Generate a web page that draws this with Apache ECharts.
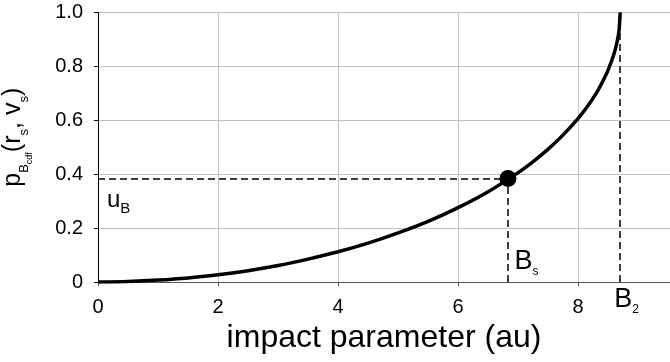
<!DOCTYPE html>
<html>
<head>
<meta charset="utf-8">
<script src="https://cdn.jsdelivr.net/npm/echarts@6/dist/echarts.min.js"></script>
<style>
  html, body { margin: 0; padding: 0; background: #fff; }
  #chart { width: 670px; height: 362px; }
</style>
</head>
<body>
<div id="chart"></div>
<script>
// impact parameter (au) and the cdf
const impactParam = [0, 0.5, 1, 1.5, 2, 2.5, 3, 3.5, 4, 4.5, 5, 5.5, 6, 6.5, 7, 7.25, 7.5, 7.75, 8, 8.15, 8.3, 8.4, 8.5, 8.6, 8.65, 8.68, 8.7]
const cdfValues = [0, 0.002, 0.007, 0.015, 0.027, 0.042, 0.061, 0.085, 0.112, 0.144, 0.182, 0.225, 0.276, 0.335, 0.406, 0.447, 0.493, 0.546, 0.607, 0.650, 0.700, 0.740, 0.787, 0.849, 0.893, 0.932, 1.0]
// the sampled point (B_s, u_B) and the cut-off B_2
const sampleB = 6.83
const sampleU = 0.384
const cutoffB = 8.7
const xTicks = [0, 2, 4, 6, 8]

const chart = echarts.init(document.getElementById('chart'))

const font = 'Liberation Sans, Arial, sans-serif'
const curveData = impactParam.map((x, i) => [x, cdfValues[i]])

const dashStyle = { color: '#000', width: 1.5, type: [7, 4] }

const option = {
  animation: false,
  textStyle: { fontFamily: font },
  grid: { left: 98, right: 0, top: 12.5, bottom: 80, containLabel: false, outerBoundsMode: 'none' },
  xAxis: {
    type: 'value',
    min: 0,
    max: 9.53,
    interval: 2,
    name: 'impact parameter (au)',
    nameLocation: 'middle',
    nameGap: 35,
    nameTextStyle: { fontSize: 32, color: '#000', fontFamily: font },
    axisLine: { show: true, lineStyle: { color: '#555', width: 1 } },
    axisTick: { show: true, length: 4, lineStyle: { color: '#555' } },
    axisLabel: {
      fontSize: 20, color: '#000', margin: 15,
      formatter: v => xTicks.indexOf(v) >= 0 ? String(v) : ''
    },
    splitLine: { show: true, lineStyle: { color: '#c0c0c0', width: 1 } }
  },
  yAxis: {
    type: 'value',
    min: 0,
    max: 1,
    interval: 0.2,
    name: '{m|p}{s|B}{ss|cdf}{m|(r}{s|s}{m|, v}{s|s}{m|)}',
    nameLocation: 'middle',
    nameRotate: 90,
    nameGap: 64,
    nameTextStyle: {
      color: '#000',
      padding: [0, 0, 0, 20],
      rich: {
        m: { fontSize: 25, color: '#000', fontFamily: font, verticalAlign: 'bottom', padding: [0, 0, 8, 0] },
        s: { fontSize: 13, color: '#000', fontFamily: font, verticalAlign: 'bottom', padding: [0, 0, 3, 0] },
        ss: { fontSize: 9, color: '#000', fontFamily: font, verticalAlign: 'bottom', padding: [0, 0, 0, 0] }
      }
    },
    axisLine: { show: true, lineStyle: { color: '#000', width: 1 } },
    axisTick: { show: true, length: 4, lineStyle: { color: '#000' } },
    axisLabel: {
      fontSize: 20, color: '#000', margin: 15,
      formatter: v => v === 0 ? '0' : v.toFixed(1)
    },
    splitLine: { show: true, lineStyle: { color: '#c0c0c0', width: 1 } }
  },
  series: [
    {
      type: 'line',
      data: curveData,
      smooth: 0.3,
      symbol: 'none',
      lineStyle: { color: '#000', width: 3.5 },
      z: 5,
      markLine: {
        silent: true,
        symbol: 'none',
        label: { show: false },
        lineStyle: dashStyle,
        data: [
          [{ coord: [0, sampleU] }, { coord: [sampleB, sampleU] }],
          [{ coord: [sampleB, 0] }, { coord: [sampleB, sampleU] }],
          [{ coord: [cutoffB, 0] }, { coord: [cutoffB, 1] }]
        ]
      }
    },
    {
      type: 'scatter',
      data: [[sampleB, sampleU]],
      symbol: 'circle',
      symbolSize: 17,
      itemStyle: { color: '#000', opacity: 1 },
      z: 6
    },
    {
      // text annotations
      type: 'scatter',
      clip: false,
      symbolSize: 0,
      silent: true,
      z: 7,
      itemStyle: { color: '#000', opacity: 1 },
      label: {
        show: true,
        position: 'right',
        distance: 0,
        color: '#000',
        opacity: 1,
        formatter: p => p.data.text,
        rich: {
          m: { fontSize: 24, color: '#000', fontFamily: font, verticalAlign: 'bottom', padding: [0, 0, 4, 0] },
          sb: { fontSize: 15, color: '#000', fontFamily: font, verticalAlign: 'bottom' },
          s: { fontSize: 12, color: '#000', fontFamily: font, verticalAlign: 'bottom' },
          big: { fontSize: 27, color: '#000', fontFamily: font, verticalAlign: 'bottom', padding: [0, 0, 3, 0] }
        }
      },
      data: [
        { value: [0.15, 0.295], text: '{m|u}{sb|B}' },
        { value: [6.94, 0.07], text: '{big|B}{s|s}' },
        { value: [8.6, -0.07], text: '{big|B}{s|2}' }
      ]
    }
  ]
}

chart.setOption(option)
</script>
</body>
</html>
